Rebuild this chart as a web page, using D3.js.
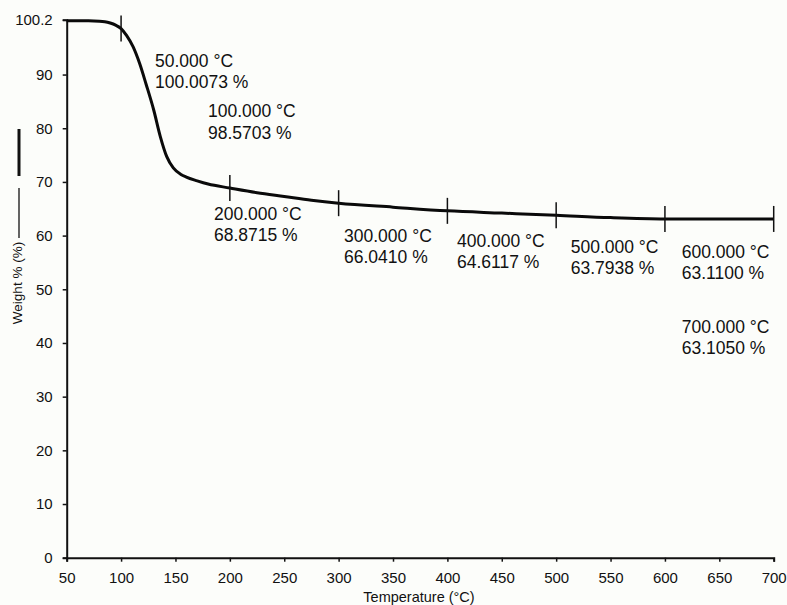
<!DOCTYPE html>
<html>
<head>
<meta charset="utf-8">
<script src="https://cdn.jsdelivr.net/npm/d3@7"></script>
<style>
  html, body { margin: 0; padding: 0; background: #fcfdfa; }
  svg { display: block; }
  text { font-family: "Liberation Sans", Arial, sans-serif; fill: #111; }
</style>
</head>
<body>
<svg id="chart" width="787" height="605"></svg>
<script>
// ---- data ----
const temps   = [50, 60, 70, 80, 85, 90, 95, 100, 105, 111, 117, 123, 130, 136, 142, 148, 155, 160, 170, 180, 200, 225, 250, 275, 300, 350, 400, 450, 500, 550, 600, 650, 700];
const weights = [100.0, 100.0, 100.0, 99.95, 99.85, 99.6, 99.2, 98.57, 97.3, 95.2, 92.1, 88.2, 83.4, 78.5, 74.7, 72.6, 71.4, 70.9, 70.2, 69.6, 68.87, 68.0, 67.3, 66.6, 66.04, 65.3, 64.61, 64.2, 63.79, 63.35, 63.11, 63.1, 63.105];
const markerTemps = [100, 200, 300, 400, 500, 600, 700];
const markerValues = [98.57, 68.87, 66.04, 64.61, 63.79, 63.11, 63.105];
const annoLine1 = ["50.000 °C", "100.000 °C", "200.000 °C", "300.000 °C", "400.000 °C", "500.000 °C", "600.000 °C", "700.000 °C"];
const annoLine2 = ["100.0073 %", "98.5703 %", "68.8715 %", "66.0410 %", "64.6117 %", "63.7938 %", "63.1100 %", "63.1050 %"];
// annotation anchor positions in data units (temperature, weight) of first-line baseline
const annoX = [131.2, 179.9, 185.4, 305.0, 408.8, 513.4, 615.4, 615.4];
const annoY = [91.41, 82.07, 62.96, 58.86, 57.93, 56.82, 55.86, 41.91];
const xTicks = [50, 100, 150, 200, 250, 300, 350, 400, 450, 500, 550, 600, 650, 700];
const yTicks = [0, 10, 20, 30, 40, 50, 60, 70, 80, 90, 100.2];

// ---- layout ----
const svg = d3.select("#chart");
const x = d3.scaleLinear().domain([50, 700]).range([66.7, 773.7]);
const y = d3.scaleLinear().domain([0, 100.2]).range([557.7, 19.8]);

svg.append("rect").attr("width", 787).attr("height", 605).attr("fill", "#fcfdfa");

// axes
const xAxis = d3.axisBottom(x).tickValues(xTicks).tickFormat(d3.format("d")).tickSizeOuter(0).tickSize(4).tickPadding(12);
const yAxis = d3.axisLeft(y).tickValues(yTicks).tickFormat(d => d === 100.2 ? "100.2" : d3.format("d")(d)).tickSizeOuter(0).tickSize(4).tickPadding(10);

const gx = svg.append("g").attr("transform", `translate(0,${y(0)})`).call(xAxis);
const gy = svg.append("g").attr("transform", `translate(${x(50)},0)`).call(yAxis);
[gx, gy].forEach(g => {
  g.select(".domain").attr("stroke", "#111").attr("stroke-width", 2);
  g.selectAll(".tick line").attr("stroke", "#111").attr("stroke-width", 1.5);
  g.selectAll(".tick text").attr("font-size", 15).attr("font-family", "Liberation Sans, Arial, sans-serif").attr("fill", "#111");
});
gx.selectAll(".tick text").attr("dy", "0.71em").attr("y", 15);

// curve
const line = d3.line().x((d, i) => x(temps[i])).y((d, i) => y(weights[i])).curve(d3.curveMonotoneX);
svg.append("path").datum(weights).attr("d", line)
  .attr("fill", "none").attr("stroke", "#0a0a0a").attr("stroke-width", 3).attr("stroke-linejoin", "round");

// markers
svg.selectAll(".marker").data(markerTemps).enter().append("line")
  .attr("x1", d => x(d)).attr("x2", d => x(d))
  .attr("y1", (d, i) => y(markerValues[i]) - 13)
  .attr("y2", (d, i) => y(markerValues[i]) + 13)
  .attr("stroke", "#111").attr("stroke-width", 1.5);

// annotations
const ann = svg.selectAll(".anno").data(annoLine1).enter().append("text")
  .attr("font-size", 17.5)
  .attr("x", (d, i) => x(annoX[i]))
  .attr("y", (d, i) => y(annoY[i]));
ann.append("tspan").attr("x", (d, i) => x(annoX[i])).text(d => d);
ann.append("tspan").attr("x", (d, i) => x(annoX[i])).attr("dy", 21.5).text((d, i) => annoLine2[i]);

// x label
svg.append("text").attr("x", 419).attr("y", 602).attr("text-anchor", "middle")
  .attr("font-size", 14.5).text("Temperature (°C)");

// y label with legend line
svg.append("text").attr("transform", "translate(22,283) rotate(-90)")
  .attr("text-anchor", "middle").attr("font-size", 13.5).text("Weight % (%)");
svg.append("line").attr("x1", 19).attr("x2", 19).attr("y1", 129).attr("y2", 176)
  .attr("stroke", "#111").attr("stroke-width", 3);
svg.append("line").attr("x1", 19).attr("x2", 19).attr("y1", 188).attr("y2", 238)
  .attr("stroke", "#111").attr("stroke-width", 1.3);
</script>
</body>
</html>
